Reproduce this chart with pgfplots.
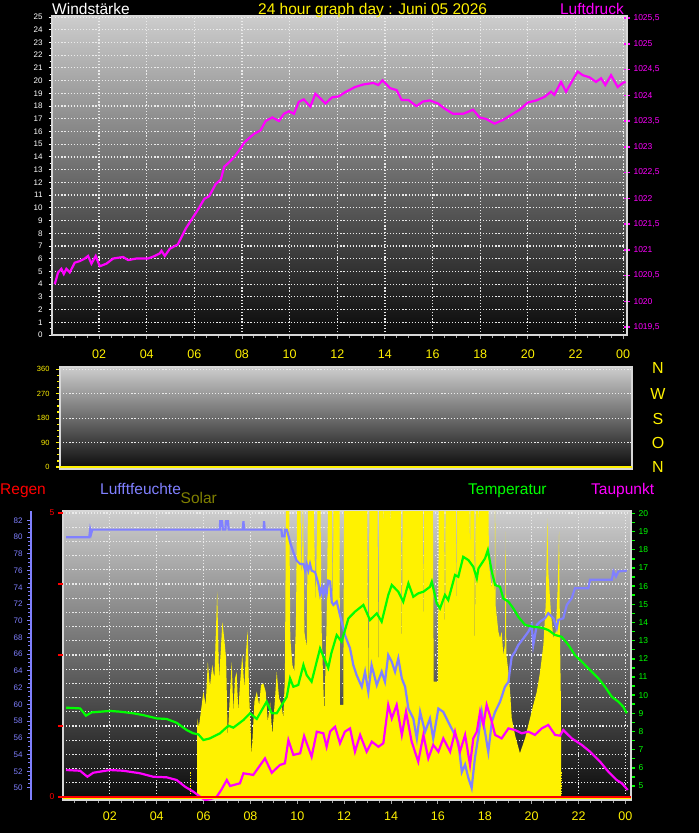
\documentclass[border=0pt]{standalone}
\usepackage{fontspec}
\setmainfont{Liberation Sans}
\usepackage{pgfplots}
\pgfplotsset{compat=1.18}
\definecolor{hum}{RGB}{128,128,255}
\definecolor{olivet}{RGB}{128,128,0}
\definecolor{bgtop}{RGB}{205,205,205}
\definecolor{bgbot}{RGB}{10,10,10}
\definecolor{framec}{RGB}{215,215,215}
\definecolor{tickg}{RGB}{165,165,165}
\definecolor{grn}{RGB}{0,255,0}
\definecolor{mag}{RGB}{255,0,255}
\newcommand{\fs}[1]{\fontsize{#1}{#1}\selectfont}
\tikzset{dgrid/.style={draw=white!92!black, line width=1.2pt, dash pattern=on 1.2pt off 1.9pt}}
\pgfplotsset{
  every axis/.append style={scale only axis, anchor=north west,
    /pgf/number format/assume math mode=true,
    /pgf/number format/use comma,
    /pgf/number format/1000 sep={}},
  hid/.style={axis lines=none, xtick=\empty, ytick=\empty},
  bgshade/.style={axis background/.style={top color=bgtop, bottom color=bgbot}},
  fr/.style={axis line style={draw=framec, line width=1.3pt}},
}
\begin{document}
\begin{tikzpicture}
\path[use as bounding box, fill=black] (0pt,0pt) rectangle (699pt,-833pt);

% ================= TOP PANEL =================
\begin{axis}[at={(52pt,-16pt)}, width=575pt, height=319pt,
  xmin=0.025, xmax=24.16, ymin=0, ymax=25.08, bgshade, fr,
  xtick={2,4,...,24}, xticklabels={02,04,06,08,10,12,14,16,18,20,22,00},
  minor xtick={0.5,1,...,24},
  ytick={0,1,...,25}, minor ytick={0.5,1.5,...,24.5},
  xtick pos=bottom, ytick pos=left, tick align=outside,
  major tick length=3.5pt, minor tick length=2.5pt,
  x tick style={draw=tickg, line width=0.9pt},
  y tick style={draw=white, line width=0.9pt},
  xticklabel style={text=yellow, font=\fs{12.5}, yshift=-8pt},
  yticklabel style={text=white, font=\fs{8}, xshift=-2.5pt},
  xmajorgrids, ymajorgrids, major grid style={dgrid},
]
\addplot[draw=none] coordinates {(1,1)};
\end{axis}

\begin{axis}[at={(52pt,-16pt)}, width=575pt, height=319pt,
  xmin=0.025, xmax=24.16, ymin=1019.345, ymax=1025.54,
  axis x line=none, axis y line*=right, fr,
  ytick={1019.5,1020,...,1025.5}, minor y tick num=3,
  tick align=center, major tick length=6pt, minor tick length=5pt,
  y tick style={draw=mag, line width=1.5pt},
  yticklabel style={text=mag, font=\fs{8.5}, /pgf/number format/fixed, /pgf/number format/precision=1},
]
\addplot[mag, line width=2.2pt] coordinates {
(0.14,1020.33)(0.28,1020.56)(0.42,1020.63)(0.52,1020.53)(0.63,1020.63)(0.77,1020.56)(0.98,1020.75)(1.19,1020.78)(1.40,1020.83)(1.54,1020.88)(1.68,1020.73)(1.86,1020.88)(2.03,1020.68)(2.31,1020.73)(2.59,1020.83)(3.01,1020.86)(3.22,1020.80)(3.57,1020.83)(3.85,1020.83)(4.06,1020.83)(4.34,1020.88)(4.55,1020.93)(4.62,1020.98)(4.76,1020.88)(4.97,1021.02)(5.17,1021.07)(5.30,1021.10)(5.65,1021.42)(5.93,1021.62)(6.14,1021.77)(6.42,1021.99)(6.62,1022.04)(6.90,1022.28)(7.11,1022.36)(7.25,1022.61)(7.46,1022.70)(7.67,1022.80)(7.88,1022.93)(8.09,1023.08)(8.30,1023.17)(8.50,1023.25)(8.78,1023.32)(8.99,1023.50)(9.27,1023.57)(9.55,1023.50)(9.76,1023.64)(9.97,1023.69)(10.18,1023.64)(10.38,1023.87)(10.59,1023.92)(10.87,1023.78)(11.08,1024.03)(11.29,1023.94)(11.50,1023.84)(11.78,1023.96)(12.06,1023.98)(12.33,1024.06)(12.74,1024.16)(13.09,1024.21)(13.51,1024.24)(13.72,1024.20)(13.90,1024.29)(14.07,1024.21)(14.21,1024.14)(14.49,1024.10)(14.70,1023.91)(14.98,1023.91)(15.32,1023.79)(15.60,1023.88)(15.88,1023.90)(16.23,1023.84)(16.51,1023.74)(16.86,1023.64)(17.28,1023.64)(17.70,1023.72)(17.97,1023.57)(18.25,1023.54)(18.60,1023.45)(18.95,1023.52)(19.30,1023.62)(19.65,1023.72)(20.00,1023.86)(20.35,1023.90)(20.70,1023.97)(20.97,1024.07)(21.11,1024.01)(21.39,1024.26)(21.60,1024.07)(21.81,1024.24)(22.09,1024.46)(22.30,1024.39)(22.58,1024.35)(22.86,1024.26)(23.07,1024.33)(23.25,1024.20)(23.49,1024.39)(23.77,1024.16)(23.98,1024.24)(24.10,1024.26)
};
\end{axis}

% ================= MIDDLE PANEL =================
\begin{axis}[at={(60pt,-367pt)}, width=572pt, height=102pt,
  xmin=-0.13, xmax=24.28, ymin=-7.3, ymax=368.4, bgshade, fr,
  xtick=\empty, ytick={0,90,...,360}, minor y tick num=3,
  ytick pos=left, tick align=outside,
  major tick length=4pt, minor tick length=3pt,
  y tick style={draw=yellow, line width=1.2pt},
  yticklabel style={text=yellow, font=\fs{7.5}, xshift=-3pt},
  ymajorgrids, major grid style={dgrid},
]
\addplot[yellow, line width=2.6pt] coordinates {(-0.2,0) (24.4,0)};
\end{axis}

% ================= BOTTOM PANEL =================
% Regen axis: background, grid, x ticks
\begin{axis}[at={(63pt,-511pt)}, width=568pt, height=289pt,
  xmin=0, xmax=24.24, ymin=-0.053, ymax=5.035, bgshade, fr,
  xtick={2,4,...,24}, xticklabels={02,04,06,08,10,12,14,16,18,20,22,00},
  minor xtick={0.5,1,...,24},
  xtick pos=bottom, tick align=outside,
  major tick length=3.5pt, minor tick length=2.5pt,
  x tick style={draw=tickg, line width=0.9pt},
  xticklabel style={text=yellow, font=\fs{12.5}, yshift=-4.5pt},
  ytick={0.25,0.5,...,5}, yticklabel={}, y tick style={draw=none},
  xmajorgrids, ymajorgrids, major grid style={dgrid},
]
\addplot[draw=none] coordinates {(1,1)};
\end{axis}

% Solar
\begin{axis}[at={(63pt,-511pt)}, width=568pt, height=289pt, hid,
  xmin=0, xmax=24.24, ymin=-10.6, ymax=1007]
\addplot[fill=yellow, draw=none] coordinates {
(5.72,0)(5.73,277)(5.80,248)(5.92,324)(5.99,371)(6.09,324)(6.18,476)(6.27,388)(6.37,465)(6.46,418)(6.58,723)(6.66,418)(6.74,524)(6.80,617)(6.88,559)(6.96,488)(7.03,207)(7.10,324)(7.20,476)(7.27,300)(7.34,418)(7.41,441)(7.48,300)(7.55,394)(7.65,500)(7.74,383)(7.80,500)(7.88,588)(7.94,371)(8.05,148)(8.17,336)(8.27,371)(8.37,324)(8.45,394)(8.55,400)(8.65,371)(8.74,265)(8.84,336)(8.93,218)(9.05,348)(9.12,441)(9.22,348)(9.33,324)(9.40,277)(9.47,418)(9.52,1100)(9.65,1100)(9.70,559)(9.79,465)(9.87,441)(9.94,606)(10.00,1100)(10.12,1100)(10.19,735)(10.24,1100)(10.30,582)(10.40,524)(10.46,1100)(10.68,1100)(10.78,676)(10.88,1100)(10.98,1100)(11.04,582)(11.15,289)(11.25,617)(11.32,1100)(11.47,1100)(11.51,559)(11.55,1100)(11.80,1100)(11.82,324)(11.96,324)(12.00,1100)(12.98,1100)(13.03,300)(13.08,1100)(13.42,1100)(13.46,371)(13.50,1100)(13.65,1100)(13.67,911)(13.69,1100)(13.94,1100)(13.96,934)(13.98,1100)(14.42,1100)(14.46,465)(14.50,1100)(15.35,1100)(15.38,535)(15.41,1100)(15.78,1100)(15.82,406)(16.00,406)(16.04,1100)(16.27,1100)(16.30,430)(16.33,1100)(16.77,1100)(16.80,582)(16.83,1100)(17.34,1100)(17.37,817)(17.40,1100)(17.55,1100)(17.58,359)(17.61,1100)(17.70,1100)(17.73,934)(17.76,1100)(18.15,1100)(18.18,817)(18.30,735)(18.37,793)(18.42,700)(18.44,1100)(18.46,676)(18.58,582)(18.65,559)(18.72,582)(18.79,500)(18.86,535)(18.89,934)(18.92,500)(19.01,441)(19.08,371)(19.15,277)(19.29,218)(19.50,154)(19.72,207)(19.93,277)(20.07,324)(20.22,371)(20.36,441)(20.50,535)(20.60,676)(20.67,981)(20.71,793)(20.83,641)(20.93,559)(21.03,582)(21.11,735)(21.17,934)(21.21,559)(21.25,324)(21.26,0)
} \closedcycle;
\addplot[yellow, line width=1.3pt, dash pattern=on 1.3pt off 1.3pt] coordinates {(5.45,0) (5.45,88)};
\addplot[yellow, line width=1.3pt, dash pattern=on 1.3pt off 1.3pt] coordinates {(21.28,0) (21.28,89)};
\end{axis}

% Luftfeuchte line
\begin{axis}[at={(63pt,-511pt)}, width=568pt, height=289pt, hid,
  xmin=0, xmax=24.24, ymin=48.56, ymax=83.13]
\addplot[hum, line width=2.2pt] coordinates {
(0.13,80.0)(1.12,80.0)(1.16,80.9)(1.20,80.4)(1.25,80.9)(6.69,80.9)(6.71,81.9)(6.79,81.9)(6.82,80.9)(6.93,80.9)(6.95,81.9)(7.04,81.9)(7.07,80.9)(7.68,80.9)(7.70,81.9)(7.73,80.9)(8.56,80.9)(8.58,81.9)(8.61,80.9)(9.32,80.9)(9.35,80.1)(9.45,80.1)(9.48,80.9)(9.55,80.9)(9.62,80.2)(9.69,79.4)(9.83,78.2)(9.97,77.2)(10.12,76.8)(10.26,76.8)(10.33,76.0)(10.40,76.8)(10.47,76.0)(10.54,76.8)(10.61,76.0)(10.76,75.8)(10.90,74.4)(10.97,73.2)(11.04,74.0)(11.11,73.0)(11.18,74.0)(11.25,73.2)(11.32,74.8)(11.40,74.7)(11.47,72.2)(11.54,71.9)(11.68,72.3)(11.89,69.9)(12.03,68.3)(12.25,66.7)(12.39,64.7)(12.53,63.5)(12.75,62.1)(12.89,63.9)(13.03,61.5)(13.17,64.7)(13.39,62.3)(13.60,63.9)(13.74,62.7)(13.88,65.9)(14.03,65.1)(14.17,63.9)(14.31,65.5)(14.46,63.1)(14.60,62.1)(14.74,59.5)(14.95,58.3)(15.10,55.9)(15.24,59.1)(15.45,56.7)(15.66,58.3)(15.80,55.9)(16.02,59.5)(16.23,59.1)(16.44,57.9)(16.66,56.7)(16.87,55.5)(17.02,51.9)(17.16,52.8)(17.30,51.2)(17.44,50.0)(17.58,53.6)(17.73,56.3)(17.87,59.1)(18.01,56.7)(18.15,54.3)(18.30,57.9)(18.44,59.1)(18.65,60.3)(18.86,62.1)(19.01,62.7)(19.08,64.3)(19.15,65.7)(19.29,66.3)(19.43,67.1)(19.65,67.9)(19.86,68.7)(20.00,69.5)(20.07,67.1)(20.22,69.5)(20.36,69.9)(20.57,70.3)(20.71,70.9)(20.93,70.3)(21.07,69.1)(21.14,70.1)(21.35,70.3)(21.50,71.9)(21.71,72.7)(21.85,73.9)(22.42,73.9)(22.49,74.9)(23.42,74.9)(23.49,75.9)(23.60,75.3)(23.70,75.9)(24.06,76.0)
};
\end{axis}

% Luftfeuchte ruler
\begin{axis}[at={(31pt,-511pt)}, width=2pt, height=289pt,
  xmin=0, xmax=1, ymin=48.56, ymax=83.13,
  axis x line=none, axis y line*=left,
  axis line style={draw=hum, line width=2.5pt},
  ytick={50,52,...,82}, minor y tick num=3, tick align=outside,
  major tick length=4pt, minor tick length=3pt,
  y tick style={draw=hum, line width=1pt},
  yticklabel style={text=hum, font=\fs{8}, xshift=-1pt},
]
\addplot[draw=none] coordinates {(0.5,60)};
\end{axis}

% Temperatur + Taupunkt
\begin{axis}[at={(63pt,-511pt)}, width=568pt, height=289pt,
  xmin=0, xmax=24.24, ymin=4.23, ymax=20.13,
  axis x line=none, axis y line*=right, fr,
  ytick={5,6,...,20}, minor y tick num=1, tick align=outside,
  major tick length=4pt, minor tick length=4pt,
  y tick style={draw=grn, line width=1.5pt},
  yticklabel style={text=grn, font=\fs{8.5}},
]
\addplot[grn, line width=2.2pt] coordinates {
(0.13,9.31)(0.73,9.27)(0.98,8.87)(1.22,9.05)(2.00,9.13)(2.43,9.09)(3.00,9.00)(3.43,8.90)(4.00,8.72)(4.42,8.69)(4.85,8.48)(5.28,8.08)(5.56,7.90)(5.78,7.84)(5.99,7.53)(6.27,7.62)(6.70,7.90)(7.06,8.32)(7.27,8.21)(7.70,8.63)(7.98,9.00)(8.27,8.69)(8.69,9.64)(8.91,9.00)(9.12,9.00)(9.55,9.91)(9.69,10.92)(9.83,10.46)(10.04,10.56)(10.26,11.66)(10.40,11.10)(10.61,10.74)(10.97,12.57)(11.32,11.50)(11.45,12.30)(11.68,13.30)(11.89,12.94)(12.18,14.22)(12.46,14.59)(12.82,14.96)(13.10,14.13)(13.39,14.50)(13.60,14.04)(13.88,15.50)(14.03,16.06)(14.31,15.69)(14.52,15.14)(14.74,16.15)(14.95,15.41)(15.16,15.60)(15.38,15.69)(15.66,15.96)(15.74,16.24)(15.95,15.05)(16.09,14.77)(16.30,15.51)(16.44,15.23)(16.73,16.61)(16.87,16.51)(17.08,17.61)(17.30,17.43)(17.51,17.06)(17.66,16.42)(17.73,16.97)(18.01,17.52)(18.13,17.98)(18.30,16.79)(18.44,16.06)(18.65,15.96)(18.79,15.32)(19.01,15.14)(19.22,14.77)(19.43,14.31)(19.72,13.86)(20.07,13.76)(20.43,13.71)(20.71,13.58)(21.00,13.31)(21.28,13.21)(21.57,12.76)(21.85,12.20)(22.14,11.84)(22.49,11.38)(22.85,10.92)(23.13,10.46)(23.42,9.91)(23.70,9.64)(23.91,9.36)(24.06,9.00)
};
\addplot[mag, line width=2.2pt] coordinates {
(0.13,5.88)(0.73,5.84)(1.04,5.51)(1.29,5.73)(2.00,5.88)(2.57,5.84)(3.29,5.70)(3.85,5.51)(4.42,5.48)(4.85,5.33)(5.21,4.96)(5.56,4.69)(5.85,4.41)(6.06,4.23)(6.30,4.28)(6.56,4.41)(6.77,4.82)(6.99,5.33)(7.13,5.00)(7.55,5.15)(7.70,5.70)(8.12,5.61)(8.62,6.52)(8.91,5.73)(9.26,6.16)(9.47,6.25)(9.62,7.53)(9.83,6.71)(10.12,6.80)(10.29,7.75)(10.61,6.61)(10.83,7.99)(11.11,7.90)(11.25,7.16)(11.40,8.00)(11.61,8.26)(11.82,7.35)(12.03,7.99)(12.25,8.17)(12.46,6.89)(12.68,7.81)(12.96,6.89)(13.18,7.44)(13.46,7.16)(13.67,7.35)(13.88,9.46)(14.03,8.72)(14.24,9.46)(14.46,7.81)(14.64,9.09)(14.88,7.44)(15.16,6.34)(15.38,7.81)(15.59,6.52)(15.80,7.26)(16.02,6.89)(16.23,7.62)(16.52,6.89)(16.73,7.99)(16.94,6.89)(17.16,7.81)(17.37,6.16)(17.51,7.62)(17.66,7.99)(17.80,9.09)(17.94,8.36)(18.08,9.46)(18.30,8.54)(18.44,7.81)(18.72,7.62)(19.01,8.17)(19.29,8.08)(19.58,7.90)(19.86,7.99)(20.14,7.81)(20.43,8.17)(20.71,8.36)(21.00,7.81)(21.21,7.77)(21.35,8.08)(21.71,7.62)(22.14,7.26)(22.49,6.89)(22.92,6.34)(23.27,5.79)(23.63,5.33)(23.85,5.15)(24.10,4.78)
};
\end{axis}

% Regen ticks and zero line
\begin{axis}[at={(63pt,-511pt)}, width=568pt, height=289pt,
  xmin=0, xmax=24.24, ymin=-0.053, ymax=5.035,
  axis x line=none, axis y line*=left, axis line style={draw=none},
  ytick={0,1.25,2.5,3.75,5}, yticklabels={0,,,,5}, tick align=outside,
  major tick length=5pt,
  y tick style={draw=red, line width=1.8pt},
  yticklabel style={text=red, font=\fs{8.5}},
]
\addplot[yellow, line width=1pt] coordinates {(0,-0.035) (24.24,-0.035)};
\addplot[red, line width=2.7pt] coordinates {(0,0) (24.24,0)};
\end{axis}

% ================= TEXTS =================
\node[anchor=base west, inner sep=0pt, text=white, font=\fs{15.5}] at (52pt,-14pt) {Windstärke};
\node[anchor=base west, inner sep=0pt, text=yellow, font=\fs{15.5}] at (258pt,-14pt) {24 hour graph day : Juni 05 2026};
\node[anchor=base east, inner sep=0pt, text=mag, font=\fs{15.5}] at (624pt,-14pt) {Luftdruck};

\node[anchor=base, inner sep=0pt, text=yellow, font=\fs{16}] at (658pt,-373.3pt) {N};
\node[anchor=base, inner sep=0pt, text=yellow, font=\fs{16}] at (658pt,-399pt) {W};
\node[anchor=base, inner sep=0pt, text=yellow, font=\fs{16}] at (658pt,-424.3pt) {S};
\node[anchor=base, inner sep=0pt, text=yellow, font=\fs{16}] at (658pt,-448.3pt) {O};
\node[anchor=base, inner sep=0pt, text=yellow, font=\fs{16}] at (658pt,-472.3pt) {N};

\node[anchor=base west, inner sep=0pt, text=red, font=\fs{15.5}] at (0pt,-494pt) {Regen};
\node[anchor=base west, inner sep=0pt, text=hum, font=\fs{15.5}] at (100pt,-494pt) {Lufftfeuchte};
\node[anchor=base west, inner sep=0pt, text=olivet, font=\fs{15.5}] at (180.5pt,-503pt) {Solar};
\node[anchor=base west, inner sep=0pt, text=grn, font=\fs{15.5}] at (468pt,-494pt) {Temperatur};
\node[anchor=base west, inner sep=0pt, text=mag, font=\fs{15.5}] at (591pt,-494pt) {Taupunkt};
\end{tikzpicture}
\end{document}
